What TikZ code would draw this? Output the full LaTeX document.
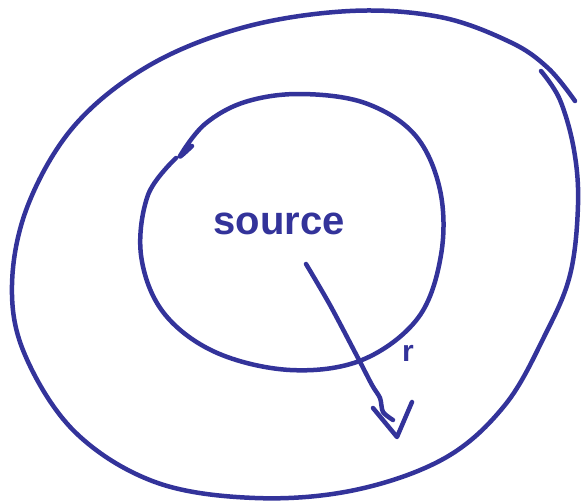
\documentclass[tikz,border=0pt]{standalone}
\usepackage{fontspec}
\setmainfont{Liberation Sans}
\definecolor{ink}{RGB}{51,51,154}
\begin{document}
\begin{tikzpicture}[x=1pt,y=-1pt,
  stroke/.style={draw=ink,line width=4.5pt,line cap=round,line join=round},
  lbl/.style={text=ink,inner sep=0pt}]
\useasboundingbox (0,0) rectangle (581,503);
% outer loop
\draw[stroke] plot[smooth,tension=0.6] coordinates {(541,71) (560,100) (574,150) (578,205) (570,275) (545,335) (505,405) (445,458) (355,490) (255,498) (155,482) (75,432) (25,355) (12,285) (28,205) (75,125) (150,65) (245,27) (350,11) (440,17) (510,42) (548,68) (575,101)};
% inner loop
\draw[stroke] plot[smooth,tension=0.6] coordinates {(192,146) (180,156) (205,124) (245,102) (300,94) (365,103) (415,135) (440,190) (441,255) (418,318) (362,360) (290,370) (215,352) (163,312) (141,255) (148,195) (176,158)};
% radius arrow
\node[lbl,font=\fontsize{40}{42}\selectfont\bfseries] (src) at (279,224) {source};
\coordinate (a0) at (306,264);
\coordinate (tip) at (397,437);
\draw[stroke] plot[smooth,tension=0.5] coordinates {(a0) (330,305) (358,358) (372,385) (380,398) (383,412) (393,420)};
\draw[stroke] (373,408) -- (tip) -- (412,402);
\node[lbl,font=\fontsize{30}{32}\selectfont\bfseries] (r) at (408,353) {r};
\end{tikzpicture}
\end{document}
